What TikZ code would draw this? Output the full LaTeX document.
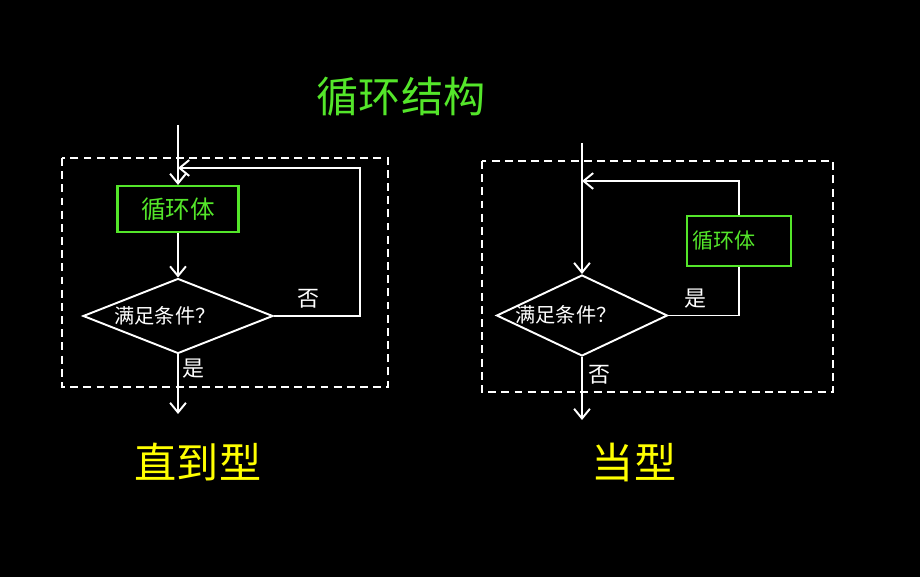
\documentclass[tikz,border=0pt]{standalone}
\usepackage{fontspec}
\setmainfont{Noto Sans CJK SC}
\usetikzlibrary{shapes.geometric, arrows.meta}
\definecolor{loopgreen}{RGB}{84,230,42}
\definecolor{typeyellow}{RGB}{255,255,0}
\tikzset{
  frame/.style={draw=white, line width=1.1pt, dash pattern=on 4.5pt off 3pt},
  bodybox/.style={draw=loopgreen, line width=1.2pt, text=loopgreen},
  test/.style={draw=white, diamond, line width=1.1pt, inner sep=0},
}

\begin{document}
\begin{tikzpicture}[x=0.02cm, y=-0.02cm, white, line width=1.1pt, >={Straight Barb[length=5.5pt, width=9pt]}]
\fill[black] (0,0) rectangle (920,577);
\node[text=loopgreen, font=\fontsize{24}{28}\selectfont] (title) at (401,97) {循环结构};
% Left: 直到型
\draw[frame] (62,158) rectangle (388,387);
\node[bodybox, minimum width=2.42cm, minimum height=0.92cm, font=\fontsize{14}{16}\selectfont] (body1) at (178,209) {循环体};
\node[test, minimum width=3.8cm, minimum height=1.5cm] (cond1) at (178,316) {};
\node[font=\fontsize{11.5}{13}\selectfont] (q1) at (165,316) {满足条件？};
\node[font=\fontsize{12.5}{14}\selectfont] (no1) at (308,299) {否};
\node[font=\fontsize{12.5}{14}\selectfont] (yes1) at (193,369) {是};
\node[text=typeyellow, font=\fontsize{24}{28}\selectfont] (type1) at (198,462) {直到型};
\coordinate (in1) at (178,125);
\coordinate (corner1) at (360,168);
\coordinate (join1) at (178,168);
\coordinate (out1) at (178,414);
% Arrows
\draw [->] (in1)--(body1.north);
\draw [->] (body1.south)--(cond1.north);
\draw [->] (cond1.east) -| (corner1) -- (join1);
\draw [->] (cond1.south)--(out1);
% Right: 当型
\draw[frame] (482,161) rectangle (833,392);
\node[test, minimum width=3.42cm, minimum height=1.62cm] (cond2) at (582,315.5) {};
\node[font=\fontsize{11.5}{13}\selectfont] (q2) at (566,315) {满足条件？};
\node[bodybox, minimum width=2.08cm, minimum height=1cm, text width=1.88cm, inner xsep=0.1cm, align=left, font=\fontsize{12}{14}\selectfont] (body2) at (739,241) {循环体};
\node[font=\fontsize{12.5}{14}\selectfont] (yes2) at (695,299) {是};
\node[font=\fontsize{12.5}{14}\selectfont] (no2) at (599,375) {否};
\node[text=typeyellow, font=\fontsize{24}{28}\selectfont] (type2) at (634,462) {当型};
\coordinate (in2) at (582,143);
\coordinate (join2) at (582,181);
\coordinate (out2) at (582,420);
% Arrows
\draw [->] (in2)--(cond2.north);
\draw (cond2.east) -| (body2.south);
\draw [->] (body2.north) |- (join2);
\draw [->] (cond2.south)--(out2);
\end{tikzpicture}
\end{document}
